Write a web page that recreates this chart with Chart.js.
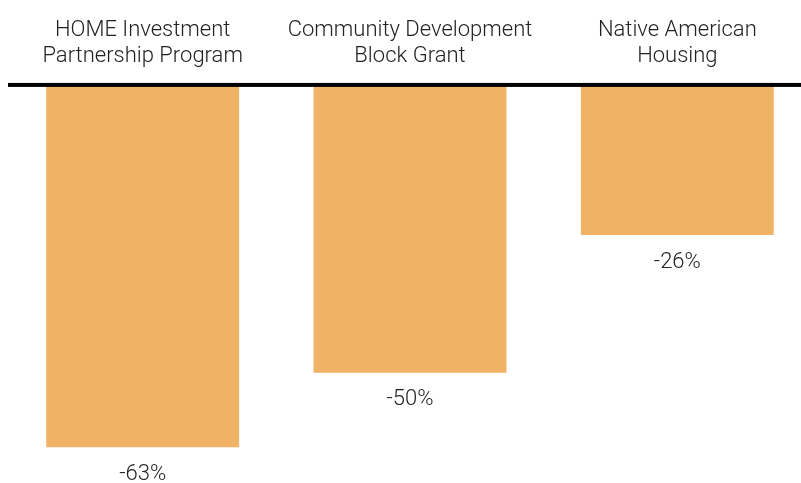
<!DOCTYPE html>
<html>
<head>
<meta charset="utf-8">
<script src="https://cdn.jsdelivr.net/npm/chart.js@4"></script>
<style>
  html, body { margin: 0; padding: 0; background: #fff; overflow: hidden; }
  #wrap { position: absolute; left: 0; top: 0; width: 812px; height: 483px; }
</style>
</head>
<body>
<div id="wrap"><canvas id="chart"></canvas></div>
<script>
// Chart data
const programs = [
  ['HOME Investment', 'Partnership Program'],
  ['Community Development', 'Block Grant'],
  ['Native American', 'Housing']
];
const changes = [-63, -50, -26];
const barColor = '#F0B264';
const textColor = '#222222';

// zero line across the top + value labels under each bar
const decorations = {
  id: 'decorations',
  afterDatasetsDraw(chart) {
    const ctx = chart.ctx;
    const y0 = chart.scales.y.getPixelForValue(0);
    ctx.save();
    ctx.fillStyle = '#000';
    ctx.fillRect(8, y0 - 3, 793, 4);

    ctx.fillStyle = textColor;
    ctx.font = '300 22px Roboto';
    ctx.textAlign = 'center';
    ctx.textBaseline = 'middle';
    chart.getDatasetMeta(0).data.forEach((bar, i) => {
      ctx.fillText(changes[i] + '%', bar.x, bar.y + 27);
    });
    ctx.restore();
  }
};

const ctx = document.getElementById('chart').getContext('2d');
new Chart(ctx, {
  type: 'bar',
  data: {
    labels: programs,
    datasets: [{
      data: changes,
      backgroundColor: barColor,
      categoryPercentage: 1,
      barPercentage: 0.7215
    }]
  },
  options: {
    responsive: true,
    maintainAspectRatio: false,
    animation: false,
    layout: { padding: { left: 9, right: 1, top: 10, bottom: 7 } },
    plugins: { legend: { display: false }, tooltip: { enabled: false } },
    scales: {
      x: {
        position: 'top',
        grid: { display: false },
        border: { display: false },
        ticks: {
          color: textColor,
          font: { family: 'Roboto', size: 22, weight: '300', lineHeight: 1.18 },
          padding: 8,
          autoSkip: false,
          maxRotation: 0
        }
      },
      y: {
        display: false,
        min: -68,
        max: 0
      }
    }
  },
  plugins: [decorations]
});
</script>
</body>
</html>
